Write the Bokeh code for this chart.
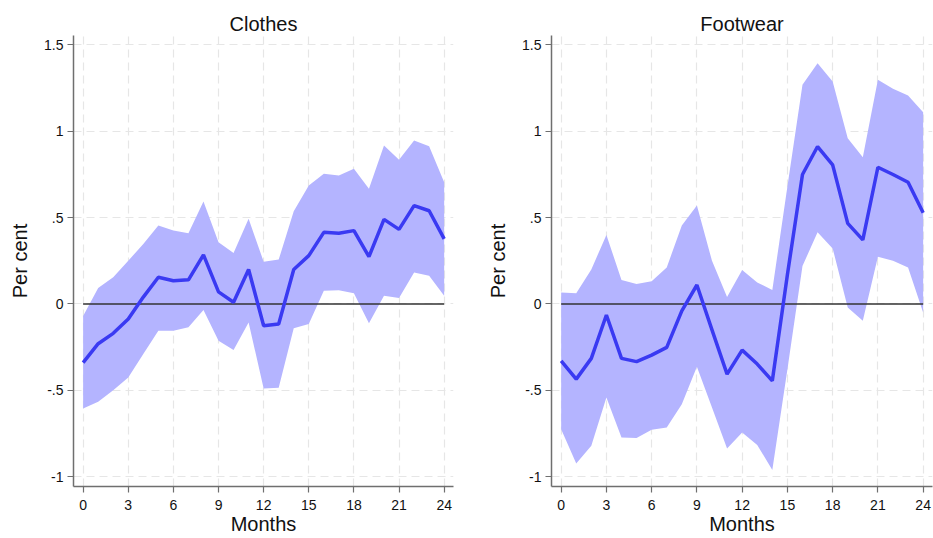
from bokeh.plotting import figure
from bokeh.layouts import row
from bokeh.models import FixedTicker, ColumnDataSource
from bokeh.embed import file_html
from bokeh.resources import INLINE

months = list(range(25))

clothes_est = [-0.34, -0.23, -0.17, -0.087, 0.04, 0.155, 0.135, 0.14, 0.284, 0.07,
               0.01, 0.20, -0.126, -0.116, 0.20, 0.28, 0.415, 0.41, 0.425, 0.274,
               0.49, 0.432, 0.57, 0.54, 0.377]
clothes_hi = [-0.07, 0.093, 0.155, 0.25, 0.348, 0.454, 0.425, 0.41, 0.593, 0.357,
              0.296, 0.493, 0.245, 0.257, 0.537, 0.686, 0.754, 0.744, 0.783, 0.667,
              0.918, 0.835, 0.947, 0.914, 0.705]
clothes_lo = [-0.605, -0.566, -0.499, -0.425, -0.29, -0.155, -0.155, -0.135, -0.035, -0.213,
              -0.267, -0.107, -0.489, -0.485, -0.141, -0.116, 0.077, 0.08, 0.062, -0.112,
              0.048, 0.035, 0.183, 0.164, 0.048]

footwear_est = [-0.329, -0.435, -0.315, -0.064, -0.315, -0.334, -0.296, -0.251, -0.04, 0.11,
                -0.15, -0.406, -0.267, -0.348, -0.445, 0.17, 0.75, 0.912, 0.806, 0.467,
                0.371, 0.792, 0.75, 0.705, 0.528]
footwear_hi = [0.067, 0.062, 0.2, 0.4, 0.139, 0.116, 0.131, 0.212, 0.454, 0.57,
               0.25, 0.04, 0.197, 0.125, 0.081, 0.68, 1.27, 1.395, 1.289, 0.96,
               0.85, 1.298, 1.246, 1.207, 1.11]
footwear_lo = [-0.725, -0.924, -0.821, -0.541, -0.773, -0.776, -0.729, -0.715, -0.58, -0.363,
               -0.6, -0.837, -0.744, -0.816, -0.962, -0.38, 0.22, 0.415, 0.322, -0.02,
               -0.097, 0.274, 0.25, 0.212, -0.049]

x_ticks = [0, 3, 6, 9, 12, 15, 18, 21, 24]
y_ticks = [-1, -0.5, 0, 0.5, 1, 1.5]
y_tick_labels = ["-1", "-.5", "0", ".5", "1", "1.5"]

FONT = "Liberation Sans"
BAND = "#b4b4ff"
LINE = "#3a3af2"
AXIS = "#6f6f6f"


def panel(title, est, lo, hi, border_left, border_right, width):
    p = figure(width=width, height=538, output_backend="svg", toolbar_location=None,
               x_range=(-0.64, 24.62), y_range=(-1.057, 1.555),
               min_border_left=border_left, min_border_right=border_right,
               min_border_top=35, min_border_bottom=52, title=title)
    p.title.align = "center"
    p.title.text_font = FONT
    p.title.text_font_size = "20px"
    p.title.text_font_style = "normal"
    p.title.text_color = "#111111"
    p.title.offset = 0
    p.title.standoff = 2
    p.outline_line_color = None

    src = ColumnDataSource(dict(m=months, est=est, lo=lo, hi=hi))
    p.varea(x="m", y1="lo", y2="hi", source=src, fill_color=BAND, fill_alpha=1.0)
    p.segment(x0=[months[0]], y0=[0], x1=[months[-1]], y1=[0],
              line_color="#333333", line_width=1.5)
    p.line(x="m", y="est", source=src, line_color=LINE, line_width=3.5)

    for g in (p.xgrid, p.ygrid):
        g.grid_line_color = "#e6e6e6"
        g.grid_line_dash = "8 5"
        g.grid_line_width = 1.2
    p.xgrid.ticker = FixedTicker(ticks=x_ticks)
    p.ygrid.ticker = FixedTicker(ticks=y_ticks)

    p.xaxis.ticker = FixedTicker(ticks=x_ticks)
    p.yaxis.ticker = FixedTicker(ticks=y_ticks)
    p.yaxis.major_label_overrides = {t: s for t, s in zip(y_ticks, y_tick_labels)}
    p.yaxis.major_label_orientation = "horizontal"

    for ax in (p.xaxis[0], p.yaxis[0]):
        ax.axis_line_color = AXIS
        ax.axis_line_width = 1.5
        ax.major_tick_line_color = AXIS
        ax.major_tick_line_width = 1.2
        ax.major_tick_out = 6
        ax.major_tick_in = 0
        ax.minor_tick_line_color = None
        ax.major_label_text_font = FONT
        ax.major_label_text_font_size = "14px"
        ax.major_label_text_color = "#111111"
        ax.axis_label_text_font = FONT
        ax.axis_label_text_font_size = "20px"
        ax.axis_label_text_font_style = "normal"
        ax.axis_label_text_color = "#111111"
    p.xaxis.axis_label = "Months"
    p.yaxis.axis_label = "Per cent"
    p.xaxis.major_label_standoff = 7
    p.yaxis.major_label_standoff = 4
    p.xaxis.axis_label_standoff = 0
    p.yaxis.axis_label_standoff = 10
    return p


p1 = panel("Clothes", clothes_est, clothes_lo, clothes_hi, 73, 13, 466)
p2 = panel("Footwear", footwear_est, footwear_lo, footwear_hi, 85, 1, 467)

layout = row(p1, p2)
open("out.html", "w").write(file_html(layout, INLINE))
